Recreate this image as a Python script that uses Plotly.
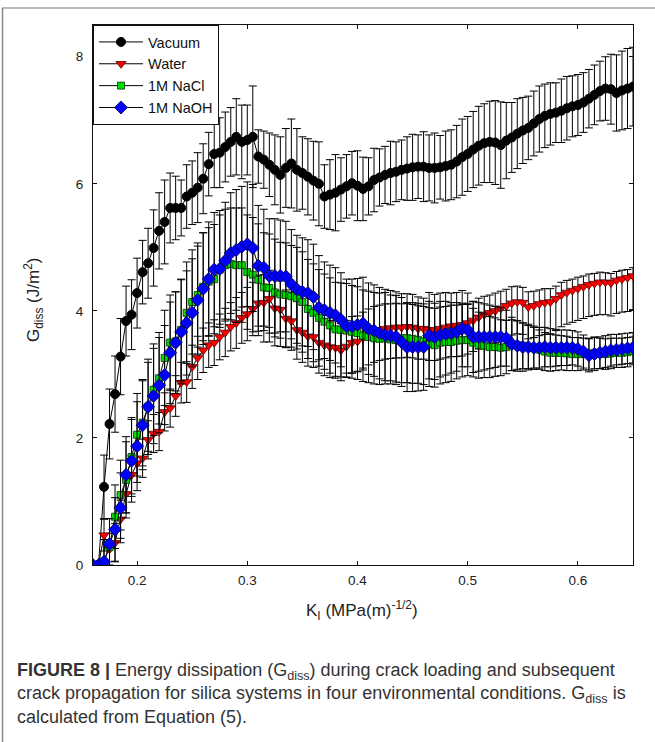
import plotly.graph_objects as go

# ---------------- data ----------------
K = [0.160, 0.165, 0.170, 0.175, 0.180, 0.185, 0.190, 0.195, 0.200, 0.205,
     0.210, 0.215, 0.220, 0.225, 0.230, 0.235, 0.240, 0.245, 0.250, 0.255,
     0.260, 0.265, 0.270, 0.275, 0.280, 0.285, 0.290, 0.295, 0.300, 0.305,
     0.310, 0.315, 0.320, 0.325, 0.330, 0.335, 0.340, 0.345, 0.350, 0.355,
     0.360, 0.365, 0.370, 0.375, 0.380, 0.385, 0.390, 0.395, 0.400, 0.405,
     0.410, 0.415, 0.420, 0.425, 0.430, 0.435, 0.440, 0.445, 0.450, 0.455,
     0.460, 0.465, 0.470, 0.475, 0.480, 0.485, 0.490, 0.495, 0.500, 0.505,
     0.510, 0.515, 0.520, 0.525, 0.530, 0.535, 0.540, 0.545, 0.550, 0.555,
     0.560, 0.565, 0.570, 0.575, 0.580, 0.585, 0.590, 0.595, 0.600, 0.605,
     0.610, 0.615, 0.620, 0.625, 0.630, 0.635, 0.640, 0.645, 0.650]

vacuum = [0.00, 0.00, 1.23, 2.22, 2.69, 3.28, 3.84, 3.94, 4.28, 4.61,
          4.75, 4.99, 5.26, 5.40, 5.62, 5.62, 5.62, 5.80, 5.86, 5.94,
          6.08, 6.31, 6.47, 6.49, 6.58, 6.66, 6.74, 6.66, 6.69, 6.74,
          6.43, 6.38, 6.30, 6.22, 6.14, 6.25, 6.32, 6.22, 6.17, 6.11,
          6.05, 6.00, 5.80, 5.83, 5.86, 5.91, 5.96, 6.01, 5.97, 5.92,
          5.96, 6.06, 6.10, 6.14, 6.17, 6.19, 6.22, 6.24, 6.26, 6.27,
          6.27, 6.25, 6.25, 6.26, 6.28, 6.30, 6.35, 6.42, 6.47, 6.54,
          6.60, 6.64, 6.66, 6.65, 6.61, 6.68, 6.73, 6.79, 6.84, 6.88,
          6.95, 7.02, 7.07, 7.10, 7.12, 7.15, 7.19, 7.22, 7.24, 7.28,
          7.34, 7.40, 7.46, 7.50, 7.49, 7.43, 7.47, 7.50, 7.53]
vacuum_err = [0, 0, 0.50, 0.55, 0.60, 0.60, 0.55, 0.55,
              0.55, 0.50, 0.55, 0.60, 0.60, 0.66, 0.55, 0.50, 0.44, 0.50, 0.50, 0.55,
              0.55, 0.50, 0.53, 0.55, 0.55, 0.54, 0.60, 0.58, 0.55, 0.80,
              0.42, 0.45, 0.50, 0.55, 0.60, 0.62, 0.70, 0.65, 0.57, 0.60, 0.62, 0.66,
              0.50, 0.55, 0.60, 0.50, 0.50, 0.50, 0.55, 0.50, 0.45, 0.50, 0.45, 0.45, 0.50, 0.47,
              0.47, 0.50, 0.52, 0.50, 0.55, 0.52, 0.55, 0.50, 0.55, 0.55, 0.57, 0.60, 0.59, 0.60, 0.62,
              0.62, 0.64, 0.66, 0.68, 0.60, 0.55, 0.55, 0.52, 0.50, 0.51, 0.52, 0.50, 0.49, 0.47, 0.50,
              0.50, 0.48, 0.48, 0.47, 0.46, 0.47, 0.47, 0.50, 0.55, 0.60, 0.62, 0.63, 0.62]

water = [0.00, 0.00, 0.47, 0.25, 0.35, 0.72, 1.12, 1.42, 1.60, 1.68,
         1.97, 2.07, 2.10, 2.41, 2.47, 2.66, 2.87, 2.88, 3.12, 3.26,
         3.38, 3.46, 3.50, 3.59, 3.66, 3.75, 3.81, 3.89, 3.95, 4.03,
         4.12, 4.13, 4.19, 4.04, 4.02, 3.88, 3.84, 3.70, 3.66, 3.60,
         3.59, 3.50, 3.46, 3.43, 3.42, 3.38, 3.44, 3.50, 3.52, 3.58,
         3.63, 3.67, 3.70, 3.72, 3.73, 3.74, 3.74, 3.75, 3.74, 3.72,
         3.72, 3.70, 3.70, 3.72, 3.74, 3.76, 3.77, 3.78, 3.81, 3.85,
         3.90, 3.94, 3.97, 4.00, 4.04, 4.08, 4.12, 4.14, 4.13, 4.06,
         4.08, 4.11, 4.13, 4.14, 4.19, 4.25, 4.29, 4.32, 4.35, 4.38,
         4.41, 4.43, 4.45, 4.45, 4.44, 4.48, 4.50, 4.52, 4.55]
water_err_plus = [0, 0,
                  0.25, 0.25, 0.30, 0.30, 0.30, 0.30, 0.30, 0.30, 0.30, 0.30,
                  0.30, 0.30, 0.30, 0.32, 0.32, 0.32, 0.34, 0.34, 0.35, 0.35,
                  0.36, 0.36, 0.38, 0.38, 0.40, 0.40, 0.42, 0.42, 0.44, 0.44,
                  0.45, 0.45, 0.45, 0.45, 0.45, 0.45, 0.44, 0.44, 0.43, 0.43,
                  0.42, 0.42, 0.42, 0.42, 0.41, 0.41, 0.40, 0.40, 0.40, 0.40,
                  0.39, 0.39, 0.38, 0.38, 0.37, 0.37, 0.36, 0.36, 0.35, 0.35,
                  0.34, 0.34, 0.33, 0.33, 0.32, 0.32, 0.31, 0.30, 0.30, 0.29,
                  0.28, 0.28, 0.27, 0.26, 0.26, 0.25, 0.24, 0.24, 0.23, 0.22,
                  0.22, 0.21, 0.20, 0.20, 0.19, 0.18, 0.18, 0.17, 0.17, 0.16,
                  0.16, 0.15, 0.15, 0.14, 0.14, 0.13, 0.13]
water_err_minus = [0, 0,
                   0.25, 0.25, 0.30, 0.30, 0.30, 0.30, 0.30, 0.30, 0.30, 0.30,
                   0.30, 0.30, 0.30, 0.32, 0.32, 0.32, 0.34, 0.34, 0.35, 0.35,
                   0.36, 0.36, 0.38, 0.38, 0.40, 0.40, 0.42, 0.42, 0.44, 0.44,
                   0.45, 0.45, 0.45, 0.46, 0.46, 0.46, 0.47, 0.47, 0.48, 0.48,
                   0.48, 0.48, 0.48, 0.48, 0.48, 0.48, 0.48, 0.48, 0.48, 0.48,
                   0.48, 0.48, 0.48, 0.48, 0.48, 0.48, 0.48, 0.48, 0.48, 0.48,
                   0.48, 0.48, 0.48, 0.48, 0.49, 0.49, 0.49, 0.49, 0.50, 0.50,
                   0.50, 0.50, 0.50, 0.50, 0.50, 0.50, 0.50, 0.50, 0.50, 0.50,
                   0.50, 0.50, 0.50, 0.50, 0.50, 0.50, 0.50, 0.50, 0.50, 0.50,
                   0.51, 0.51, 0.52, 0.52, 0.52, 0.53, 0.53]

nacl = [0.00, 0.00, 0.05, 0.28, 0.76, 1.10, 1.34, 1.70, 2.05, 2.24,
        2.49, 2.76, 2.94, 3.26, 3.50, 3.52, 3.70, 3.97, 4.14, 4.25,
        4.38, 4.46, 4.50, 4.65, 4.72, 4.74, 4.72, 4.72, 4.61, 4.57,
        4.49, 4.37, 4.36, 4.29, 4.26, 4.25, 4.23, 4.20, 4.14, 4.03,
        3.97, 3.89, 3.83, 3.77, 3.71, 3.70, 3.69, 3.67, 3.65, 3.61,
        3.59, 3.57, 3.56, 3.57, 3.55, 3.54, 3.57, 3.57, 3.56, 3.54,
        3.52, 3.48, 3.46, 3.50, 3.51, 3.51, 3.53, 3.54, 3.54, 3.50,
        3.46, 3.45, 3.43, 3.43, 3.42, 3.43, 3.46, 3.46, 3.45, 3.43,
        3.42, 3.39, 3.36, 3.34, 3.34, 3.34, 3.33, 3.32, 3.32, 3.32,
        3.32, 3.34, 3.33, 3.32, 3.33, 3.34, 3.34, 3.35, 3.37]
nacl_err = [0, 0,
            0.35, 0.45, 0.50, 0.55, 0.60, 0.62, 0.65, 0.68, 0.70, 0.72,
            0.72, 0.75, 0.75, 0.78, 0.80, 0.80, 0.82, 0.82, 0.85, 0.85,
            0.86, 0.86, 0.88, 0.88, 0.90, 0.90, 0.90, 0.90, 0.88, 0.86,
            0.85, 0.84, 0.82, 0.82, 0.80, 0.80, 0.79, 0.78, 0.77, 0.76,
            0.75, 0.75, 0.74, 0.74, 0.74, 0.73, 0.73, 0.72, 0.72, 0.72,
            0.72, 0.72, 0.70, 0.70, 0.70, 0.70, 0.70, 0.68, 0.68, 0.67,
            0.66, 0.65, 0.64, 0.62, 0.60, 0.58, 0.56, 0.54, 0.52, 0.50,
            0.48, 0.46, 0.44, 0.42, 0.40, 0.38, 0.36, 0.34, 0.32, 0.31,
            0.30, 0.29, 0.28, 0.27, 0.27, 0.26, 0.26, 0.25, 0.25, 0.25,
            0.24, 0.24, 0.24, 0.23, 0.23, 0.23, 0.22]

naoh = [0.00, 0.00, 0.05, 0.33, 0.56, 0.90, 1.42, 1.64, 1.87, 2.20,
        2.49, 2.66, 2.83, 2.99, 3.34, 3.50, 3.67, 3.81, 3.97, 4.17,
        4.35, 4.50, 4.65, 4.66, 4.79, 4.91, 4.96, 5.01, 5.05, 4.99,
        4.71, 4.68, 4.55, 4.55, 4.55, 4.54, 4.42, 4.34, 4.30, 4.28,
        4.22, 4.05, 4.01, 3.97, 3.93, 3.86, 3.76, 3.76, 3.78, 3.80,
        3.72, 3.69, 3.65, 3.62, 3.61, 3.59, 3.51, 3.43, 3.43, 3.43,
        3.43, 3.61, 3.59, 3.62, 3.64, 3.65, 3.67, 3.72, 3.70, 3.59,
        3.59, 3.59, 3.59, 3.59, 3.59, 3.57, 3.48, 3.45, 3.43, 3.43,
        3.42, 3.42, 3.43, 3.42, 3.42, 3.42, 3.42, 3.42, 3.40, 3.36,
        3.30, 3.32, 3.34, 3.36, 3.38, 3.39, 3.40, 3.41, 3.42]
naoh_err = [0, 0,
            0.35, 0.40, 0.50, 0.55, 0.60, 0.65, 0.70, 0.70, 0.75, 0.75,
            0.75, 0.78, 0.80, 0.80, 0.82, 0.82, 0.85, 0.85, 0.88, 0.90,
            0.90, 0.92, 0.92, 0.95, 0.95, 0.95, 0.98, 1.00, 0.95, 0.92,
            0.90, 0.90, 0.88, 0.87, 0.86, 0.85, 0.85, 0.84, 0.83, 0.82,
            0.76, 0.75, 0.75, 0.74, 0.74, 0.74, 0.73, 0.73, 0.72, 0.72,
            0.72, 0.72, 0.71, 0.71, 0.70, 0.70, 0.70, 0.69, 0.68, 0.68,
            0.67, 0.66, 0.65, 0.63, 0.62, 0.60, 0.58, 0.56, 0.54, 0.52,
            0.50, 0.48, 0.46, 0.44, 0.42, 0.40, 0.38, 0.36, 0.34, 0.32,
            0.31, 0.30, 0.29, 0.28, 0.28, 0.27, 0.27, 0.26, 0.26, 0.26,
            0.25, 0.25, 0.25, 0.24, 0.24, 0.24, 0.24]

x_ticks = [0.2, 0.3, 0.4, 0.5, 0.6]
x_ticktext = ["0.2", "0.3", "0.4", "0.5", "0.6"]
y_ticks = [0, 2, 4, 6, 8]
y_ticktext = ["0", "2", "4", "6", "8"]

# ---------------- figure ----------------
W, H = 655, 742
L, R, T, B = 93, 22, 25, 177
PW, PH = W - L - R, H - T - B


def px(x):
    return (x - L) / PW


def py(y):
    return (H - B - y) / PH


FONT = "Liberation Sans, Arial, sans-serif"

series = [
    ("Vacuum", vacuum, vacuum_err, vacuum_err,
     dict(symbol="circle", size=9, color="#000000", line=dict(color="#000000", width=1))),
    ("Water", water, water_err_plus, water_err_minus,
     dict(symbol="triangle-down", size=9, color="#ff0000", line=dict(color="#5a0000", width=0.8))),
    ("1M NaCl", nacl, nacl_err, nacl_err,
     dict(symbol="square", size=7, color="#00e000", line=dict(color="#003300", width=0.8))),
    ("1M NaOH", naoh, naoh_err, naoh_err,
     dict(symbol="diamond", size=10, color="#0000ff", line=dict(color="#00004a", width=0.8))),
]

fig = go.Figure()
for name, yv, ep, em, mk in series:
    fig.add_trace(go.Scatter(
        x=K, y=yv, name=name, mode="lines+markers",
        line=dict(color="#000000", width=1),
        marker=mk,
        error_y=dict(type="data", array=ep, arrayminus=em, symmetric=False,
                     visible=True, color="#000000", thickness=1, width=4),
    ))

axis_common = dict(
    showline=True, linecolor="#111111", linewidth=1, mirror="ticks",
    ticks="inside", ticklen=4, tickwidth=1, tickcolor="#111111",
    showgrid=False, zeroline=False,
    tickfont=dict(family=FONT, size=13.5, color="#222222"),
)

fig.update_layout(
    width=W, height=H,
    margin=dict(l=L, r=R, t=T, b=B, autoexpand=False),
    paper_bgcolor="white", plot_bgcolor="white",
    showlegend=True,
    legend=dict(x=0, y=1, xanchor="left", yanchor="top",
                bgcolor="white", bordercolor="#111111", borderwidth=1,
                font=dict(family=FONT, size=14.5, color="#111111"),
                tracegroupgap=0, itemwidth=44),
    xaxis=dict(range=[0.16, 0.65], tickvals=x_ticks, ticktext=x_ticktext,
               ticklabelstandoff=3, **axis_common),
    yaxis=dict(range=[0, 8.5], tickvals=y_ticks, ticktext=y_ticktext,
               ticklabelstandoff=6, **axis_common),
)

annotations = [
    dict(text="G<sub>diss</sub> (J/m<sup>2</sup>)", x=px(33), y=py(300),
         textangle=-90, font=dict(family=FONT, size=17, color="#222222")),
    dict(text="K<sub>I</sub> (MPa(m)<sup>-1/2</sup>)", x=px(362), y=py(610),
         font=dict(family=FONT, size=17, color="#222222")),
]
CAP = "Liberation Sans, Arial, sans-serif"
cap_lines = [
    ("<b>FIGURE 8 |</b> Energy dissipation (G<sub>diss</sub>) during crack loading and subsequent", 671),
    ("crack propagation for silica systems in four environmental conditions. G<sub>diss</sub> is", 694),
    ("calculated from Equation (5).", 717),
]
for txt, yy in cap_lines:
    annotations.append(dict(text=txt, x=px(15), y=py(yy), xanchor="left",
                            yanchor="middle", align="left",
                            font=dict(family=CAP, size=18, color="#333333")))
for a in annotations:
    a.update(xref="paper", yref="paper", showarrow=False)
    a.setdefault("xanchor", "center")
    a.setdefault("yanchor", "middle")
fig.update_layout(annotations=annotations)

# figure frame lines (top and left)
fig.update_layout(shapes=[
    dict(type="line", xref="paper", yref="paper", x0=px(2), x1=px(655), y0=py(8), y1=py(8),
         line=dict(color="#777777", width=1.2)),
    dict(type="line", xref="paper", yref="paper", x0=px(2.5), x1=px(2.5), y0=py(8), y1=py(742),
         line=dict(color="#888888", width=1.5)),
])

fig.write_html("out.html")
